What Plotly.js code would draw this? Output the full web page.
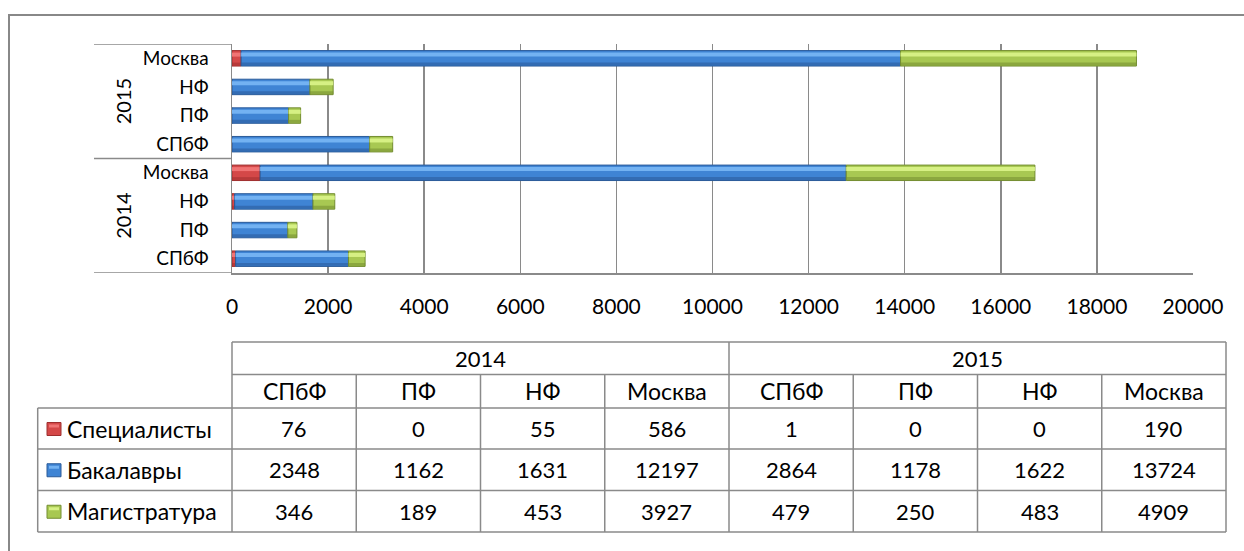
<!DOCTYPE html>
<html>
<head>
<meta charset="utf-8">
<script src="https://cdn.plot.ly/plotly-3.0.1.min.js"></script>
<style>html,body{margin:0;padding:0;background:#fff}#chart{width:1244px;height:551px}</style>
</head>
<body>
<div id="chart"></div>
<script>
// ---------- DATA ----------
const years = ['2014', '2015'];
const branches = ['СПбФ', 'ПФ', 'НФ', 'Москва'];
const seriesNames = ['Специалисты', 'Бакалавры', 'Магистратура'];
const spec2014 = [76, 0, 55, 586];
const spec2015 = [1, 0, 0, 190];
const bach2014 = [2348, 1162, 1631, 12197];
const bach2015 = [2864, 1178, 1622, 13724];
const mag2014 = [346, 189, 453, 3927];
const mag2015 = [479, 250, 483, 4909];
const xTicks = [0, 2000, 4000, 6000, 8000, 10000, 12000, 14000, 16000, 18000, 20000];

// ---------- STYLE ----------
const W = 1244, H = 551;
const FONT = 'Lato, "Open Sans", sans-serif';
const GRID = '#8a8a8a';
const colors = {
  mid:   ['#D44848', '#3F84D4', '#A8C852'],
  light: ['#F07474', '#73B2F2', '#D6F084'],
  dark:  ['#9E2E2E', '#2A5A98', '#738D30']
};
const px = p => p / W;
const py = p => 1 - p / H;

// ---------- BUILD ----------
const cats = [], labels = [];
years.forEach(y => branches.forEach(b => { cats.push(y + ' ' + b); labels.push(b); }));
const series = [spec2014.concat(spec2015), bach2014.concat(bach2015), mag2014.concat(mag2015)];

const traces = [];
const cum = cats.map(() => 0);
series.forEach((vals, s) => {
  const base = cum.slice();
  traces.push({
    type: 'bar', orientation: 'h', y: cats, x: vals, base: base, name: seriesNames[s],
    width: 0.54, offset: -0.27,
    marker: {color: colors.mid[s], line: {color: colors.dark[s], width: 1}},
    showlegend: false, hoverinfo: 'x+name'
  });
  traces.push({
    type: 'bar', orientation: 'h', y: cats, x: vals, base: base, name: seriesNames[s],
    width: 0.14, offset: 0.06,
    marker: {color: colors.light[s], line: {width: 0}},
    showlegend: false, hoverinfo: 'skip'
  });
  traces.push({
    type: 'bar', orientation: 'h', y: cats, x: vals, base: base, name: seriesNames[s],
    width: 0.1, offset: -0.25,
    marker: {color: colors.dark[s], opacity: 0.55, line: {width: 0}},
    showlegend: false, hoverinfo: 'skip'
  });
  vals.forEach((v, i) => cum[i] += v);
});

const shapes = [];
const annotations = [];
const line = (x0, y0, x1, y1, extra) => Object.assign({type: 'line', xref: 'paper', yref: 'paper',
  x0: px(x0), y0: py(y0), x1: px(x1), y1: py(y1), line: {color: GRID, width: 1.5}}, extra || {});

// outer border
shapes.push({type: 'rect', xref: 'paper', yref: 'paper', x0: px(9), y0: py(600), x1: px(1300), y1: py(15),
  line: {color: '#888', width: 2}, layer: 'below'});

// category box lines (left of plot)
const nPer = branches.length;
[-0.5, nPer - 0.5, cats.length - 0.5].forEach(yv => {
  shapes.push({type: 'line', xref: 'paper', yref: 'y', x0: px(94), x1: px(232), y0: yv, y1: yv,
    line: {color: GRID, width: 1.5}});
});
// year labels
years.forEach((y, k) => {
  annotations.push({xref: 'paper', yref: 'y', x: px(109), y: k * nPer + (nPer - 1) / 2, text: y,
    textangle: -90, showarrow: false, font: {family: FONT, size: 20, color: '#000'}});
});

// ---------- TABLE ----------
const tL = 232, tR = 1226, lL = 37.7;
const rowY = [342, 374.5, 408, 449, 490.5, 532];
const nCols = cats.length;
const colW = (tR - tL) / nCols;
shapes.push(line(tL, rowY[0], tR, rowY[0]));
shapes.push(line(tL, rowY[1], tR, rowY[1]));
for (let r = 2; r < rowY.length; r++) shapes.push(line(lL, rowY[r], tR, rowY[r]));
shapes.push(line(lL, rowY[2], lL, rowY[5]));
for (let c = 0; c <= nCols; c++) {
  const xx = tL + c * colW;
  const top = (c === 0 || c === nCols || c === nPer) ? rowY[0] : rowY[1];
  shapes.push(line(xx, top, xx, rowY[5]));
}
const tfNum = {family: FONT, size: 22, color: '#000'};
const tfTxt = {family: FONT, size: 23, color: '#000'};
years.forEach((y, k) => {
  annotations.push({xref: 'paper', yref: 'paper', x: px(tL + (k * nPer + nPer / 2) * colW),
    y: py((rowY[0] + rowY[1]) / 2), text: y, showarrow: false, font: tfNum, xanchor: 'center', yanchor: 'middle'});
});
labels.forEach((b, c) => {
  annotations.push({xref: 'paper', yref: 'paper', x: px(tL + (c + 0.5) * colW),
    y: py((rowY[1] + rowY[2]) / 2), text: b, showarrow: false, font: tfTxt, xanchor: 'center', yanchor: 'middle'});
});
series.forEach((vals, s) => {
  const cy = (rowY[2 + s] + rowY[3 + s]) / 2;
  vals.forEach((v, c) => {
    annotations.push({xref: 'paper', yref: 'paper', x: px(tL + (c + 0.5) * colW), y: py(cy),
      text: String(v), showarrow: false, font: tfNum, xanchor: 'center', yanchor: 'middle'});
  });
  shapes.push({type: 'rect', xref: 'paper', yref: 'paper', x0: px(47), x1: px(61), y0: py(cy + 7), y1: py(cy - 6),
    fillcolor: colors.mid[s], line: {color: colors.dark[s], width: 1}});
  shapes.push({type: 'rect', xref: 'paper', yref: 'paper', x0: px(49), x1: px(59), y0: py(cy - 1), y1: py(cy - 4),
    fillcolor: colors.light[s], line: {width: 0}});
  annotations.push({xref: 'paper', yref: 'paper', x: px(65), y: py(cy), text: seriesNames[s],
    showarrow: false, font: tfTxt, xanchor: 'left', yanchor: 'middle'});
});

const layout = {
  width: W, height: H,
  margin: {l: 0, r: 0, t: 0, b: 0},
  paper_bgcolor: '#fff', plot_bgcolor: '#fff',
  barmode: 'overlay',
  bargap: 0.46,
  font: {family: FONT, color: '#000'},
  xaxis: {
    domain: [px(232), px(1193)], range: [0, 20000], tickmode: 'array', tickvals: xTicks,
    ticktext: xTicks.map(String),
    showgrid: true, gridcolor: GRID, gridwidth: 1.5, zeroline: false,
    showline: true, linecolor: GRID, linewidth: 1.5, mirror: false,
    ticks: '', ticklabelstandoff: 14, tickfont: {family: FONT, size: 21, color: '#000'},
    fixedrange: true
  },
  yaxis: {
    domain: [py(273), py(44)], type: 'category', categoryorder: 'array', categoryarray: cats,
    range: [-0.5, cats.length - 0.5],
    tickmode: 'array', tickvals: cats, ticktext: labels,
    showgrid: false, zeroline: false, showline: true, linecolor: GRID, linewidth: 1.5,
    ticks: '', ticklabelstandoff: 18, tickfont: {family: FONT, size: 19, color: '#000'},
    fixedrange: true
  },
  shapes: shapes,
  annotations: annotations,
  showlegend: false
};
Plotly.newPlot('chart', traces, layout, {displayModeBar: false, staticPlot: true});
</script>
</body>
</html>
